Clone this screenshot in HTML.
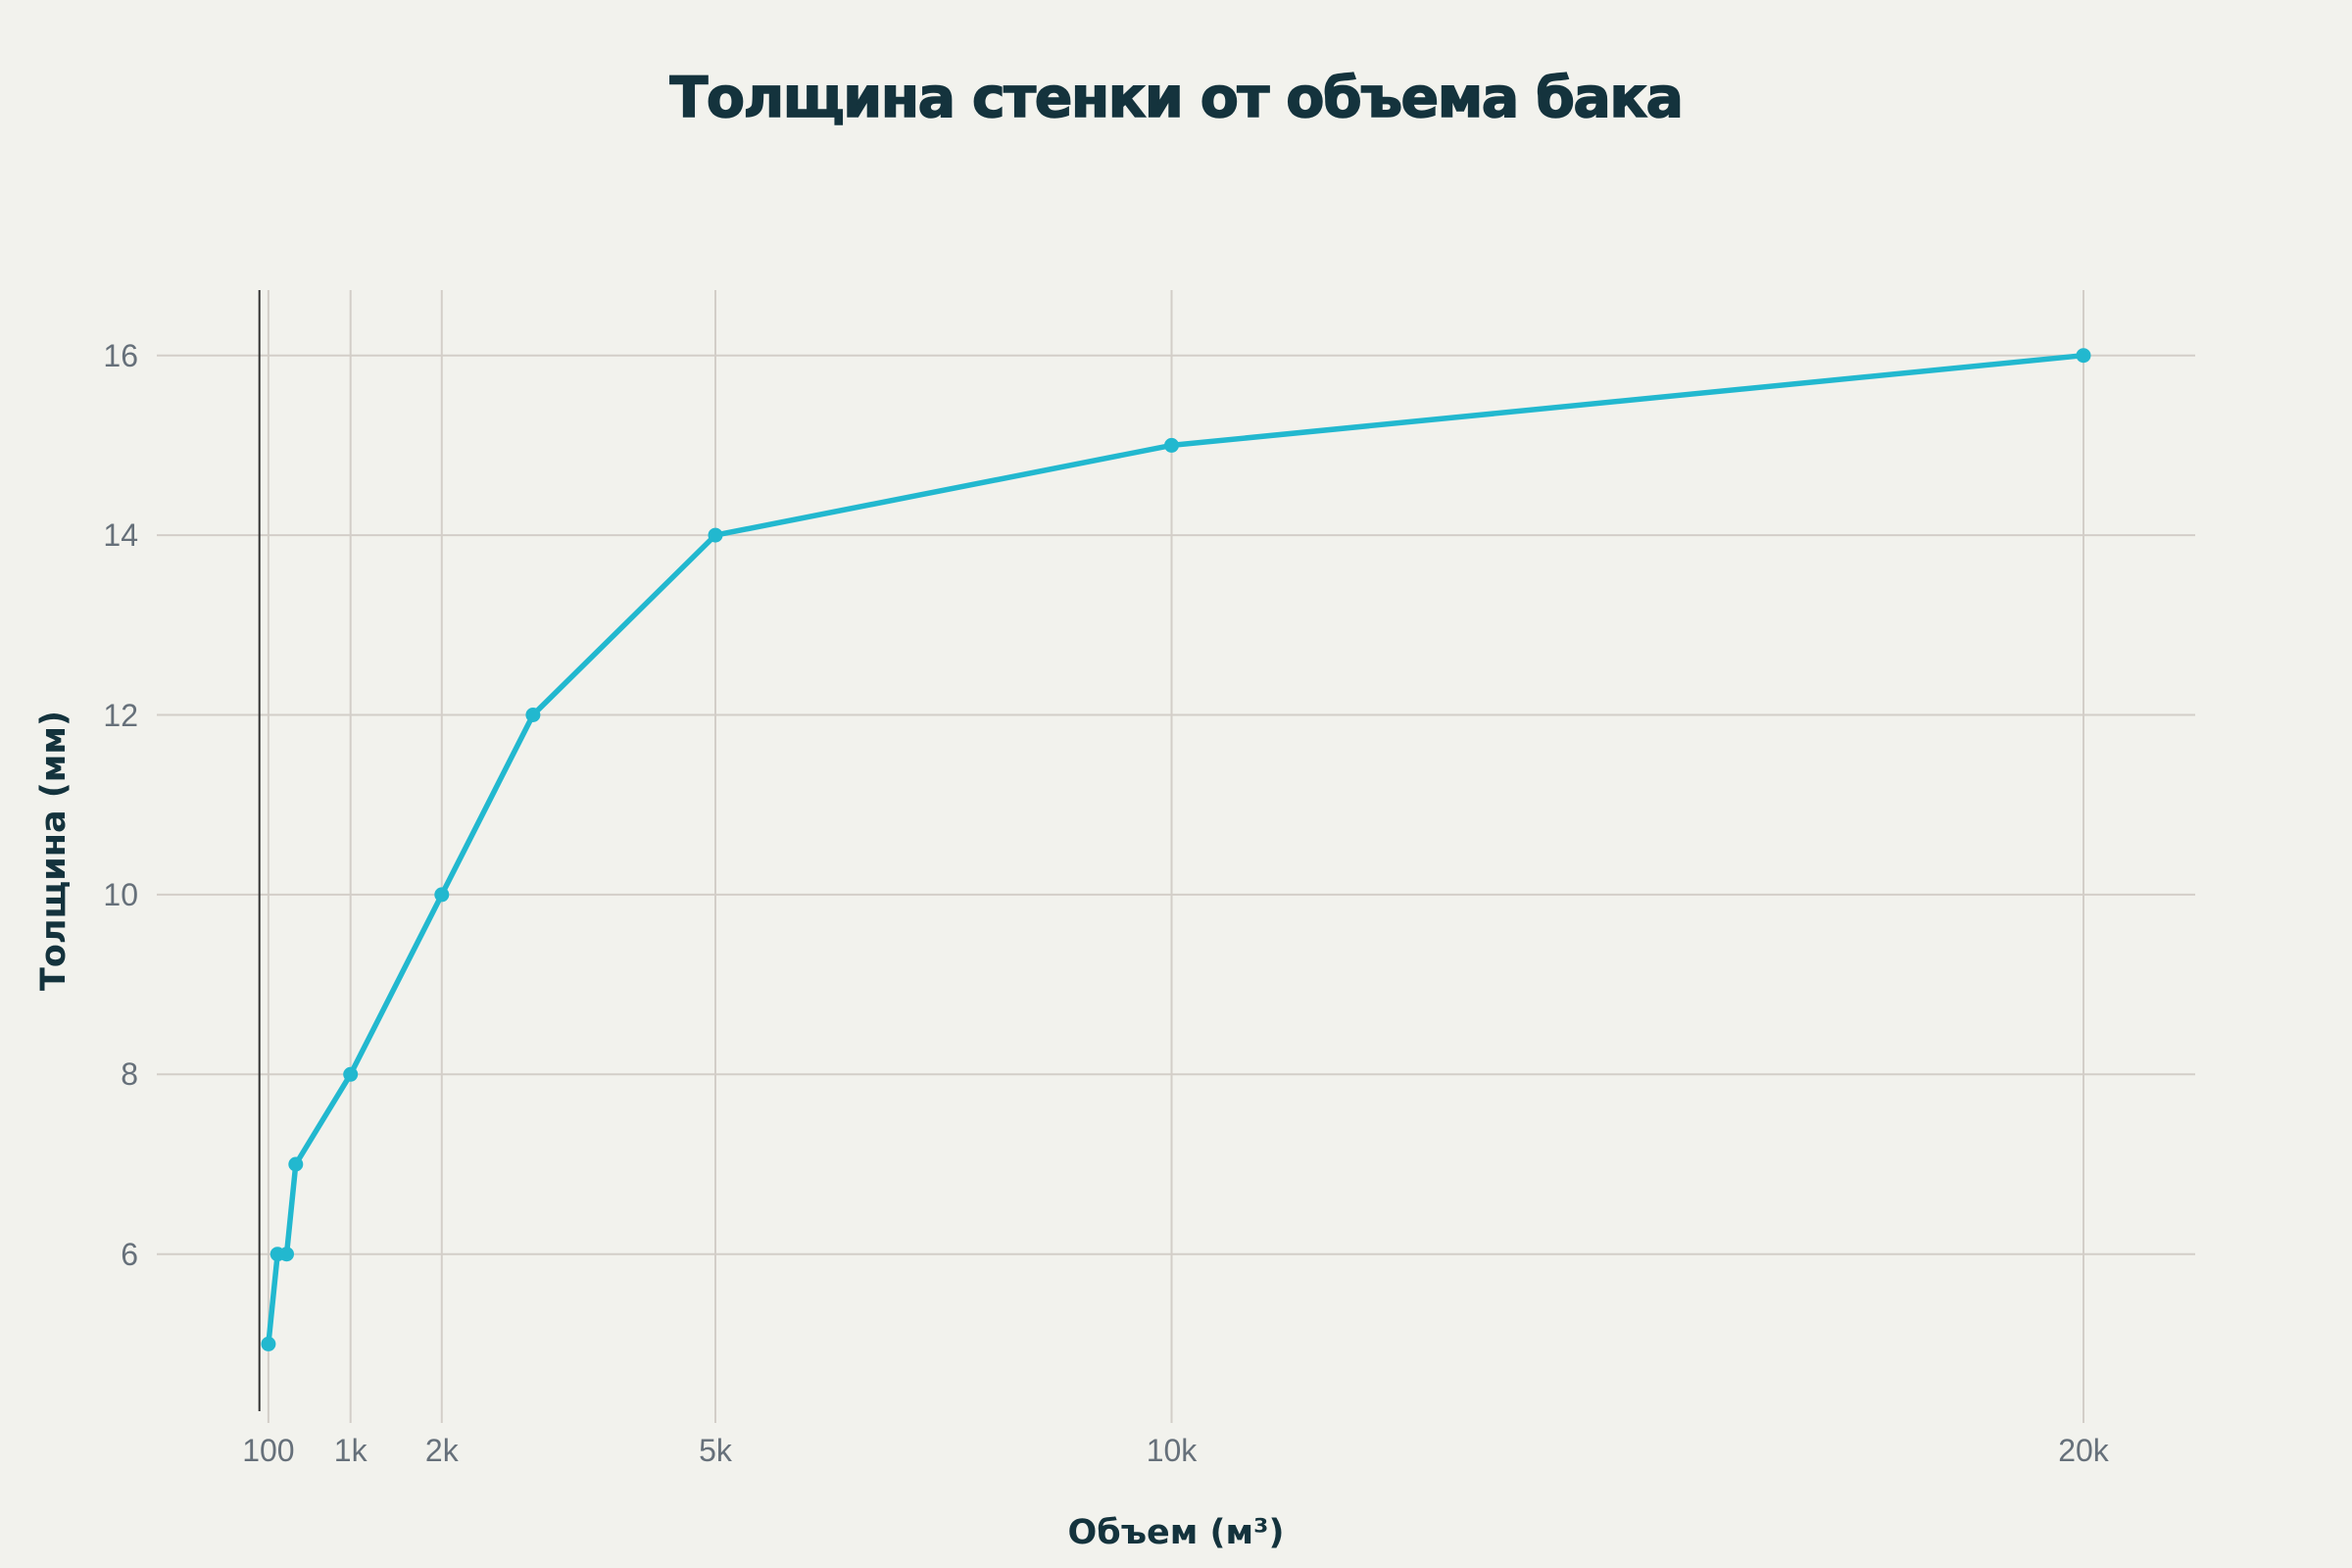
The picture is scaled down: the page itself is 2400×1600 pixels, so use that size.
<!DOCTYPE html>
<html><head><meta charset="utf-8"><style>
html,body{margin:0;padding:0;background:#f2f2ed;}
svg{display:block}
</style></head><body>
<svg width="2400" height="1600" xmlns="http://www.w3.org/2000/svg">
<rect width="2400" height="1600" fill="#f2f2ed"/>
<text x="1200" y="119" text-anchor="middle" font-family="'DejaVu Sans','Liberation Sans',sans-serif" font-weight="bold" font-size="57" letter-spacing="-1.5" fill="#14333d" stroke="#14333d" stroke-width="1.5">Толщина стенки от объема бака</text>
<g stroke="#d3cec8" stroke-width="2">
<line x1="160" y1="362.7" x2="2240" y2="362.7"/>
<line x1="160" y1="546.1" x2="2240" y2="546.1"/>
<line x1="160" y1="729.5" x2="2240" y2="729.5"/>
<line x1="160" y1="912.9" x2="2240" y2="912.9"/>
<line x1="160" y1="1096.3" x2="2240" y2="1096.3"/>
<line x1="160" y1="1279.7" x2="2240" y2="1279.7"/>
<line x1="273.9" y1="296" x2="273.9" y2="1452"/>
<line x1="357.7" y1="296" x2="357.7" y2="1452"/>
<line x1="450.8" y1="296" x2="450.8" y2="1452"/>
<line x1="730" y1="296" x2="730" y2="1452"/>
<line x1="1195.5" y1="296" x2="1195.5" y2="1452"/>
<line x1="2126" y1="296" x2="2126" y2="1452"/>
</g>
<line x1="264.7" y1="296" x2="264.7" y2="1440" stroke="#333" stroke-width="2"/>
<g font-family="'Liberation Sans',sans-serif" font-size="32" fill="#66707a" text-anchor="end">
<text x="141" y="374">16</text>
<text x="141" y="557">14</text>
<text x="141" y="741">12</text>
<text x="141" y="924">10</text>
<text x="141" y="1107">8</text>
<text x="141" y="1291">6</text>
</g>
<g font-family="'Liberation Sans',sans-serif" font-size="32" fill="#66707a" text-anchor="middle">
<text x="273.9" y="1491">100</text>
<text x="357.7" y="1491">1k</text>
<text x="450.8" y="1491">2k</text>
<text x="730" y="1491">5k</text>
<text x="1195.5" y="1491">10k</text>
<text x="2126" y="1491">20k</text>
</g>
<polyline fill="none" stroke="#22b8cf" stroke-width="5.5" stroke-linejoin="round" points="273.9,1371.4 283.2,1279.7 292.5,1279.7 301.8,1188 357.7,1096.3 450.8,912.9 543.9,729.5 730,546.1 1195.5,454.4 2126,362.7"/>
<g fill="#22b8cf">
<circle cx="273.9" cy="1371.4" r="7.5"/>
<circle cx="283.2" cy="1279.7" r="7.5"/>
<circle cx="292.5" cy="1279.7" r="7.5"/>
<circle cx="301.8" cy="1188" r="7.5"/>
<circle cx="357.7" cy="1096.3" r="7.5"/>
<circle cx="450.8" cy="912.9" r="7.5"/>
<circle cx="543.9" cy="729.5" r="7.5"/>
<circle cx="730" cy="546.1" r="7.5"/>
<circle cx="1195.5" cy="454.4" r="7.5"/>
<circle cx="2126" cy="362.7" r="7.5"/>
</g>
<text x="1200" y="1575" text-anchor="middle" font-family="'DejaVu Sans','Liberation Sans',sans-serif" font-weight="bold" font-size="35" fill="#14333d">Объем (м³)</text>
<text transform="translate(66,868) rotate(-90)" text-anchor="middle" font-family="'DejaVu Sans','Liberation Sans',sans-serif" font-weight="bold" font-size="35" fill="#14333d">Толщина (мм)</text>
</svg>
</body></html>
